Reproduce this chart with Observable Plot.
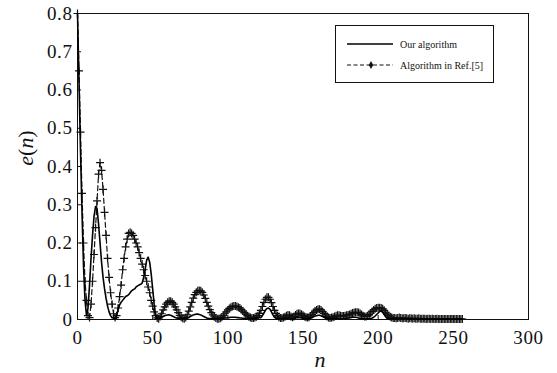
<!DOCTYPE html>
<html>
<head>
<meta charset="utf-8">
<script src="https://cdn.jsdelivr.net/npm/d3@7"></script>
<script src="https://cdn.jsdelivr.net/npm/@observablehq/plot@0.6"></script>
<style>
  html, body { margin: 0; padding: 0; background: #fff; }
  #chart { width: 557px; height: 373px; }
  #chart svg, #chart svg text { font-family: "Liberation Serif", "Times New Roman", serif !important; }
</style>
</head>
<body>
<div id="chart"></div>
<script>
// ---- data ----
const xTicks = [0, 50, 100, 150, 200, 250, 300];
const yTicks = [0, 0.1, 0.2, 0.3, 0.4, 0.5, 0.6, 0.7, 0.8];
const seriesNames = ["Our algorithm", "Algorithm in Ref.[5]"];

// e(n) for n = 0..256, Algorithm in Ref.[5] (dashed with + markers)
const refValues = [
  0.80,0.65,0.49,0.33,0.20,0.10,0.05,0.01,0.005,0.04,
  0.10,0.17,0.24,0.31,0.38,0.41,0.39,0.34,0.28,0.22,
  0.16,0.11,0.07,0.04,0.015,0.005,0.01,0.03,0.06,0.09,
  0.13,0.16,0.19,0.21,0.225,0.228,0.225,0.22,0.21,0.20,
  0.19,0.175,0.16,0.145,0.13,0.115,0.10,0.085,0.07,0.05,
  0.035,0.02,0.01,0.004,0.002,0.008,0.015,0.025,0.033,0.04,
  0.045,0.048,0.048,0.045,0.04,0.033,0.025,0.018,0.011,0.006,
  0.003,0.002,0.005,0.012,0.022,0.033,0.045,0.056,0.065,0.071,
  0.075,0.076,0.075,0.071,0.064,0.055,0.045,0.035,0.026,0.018,
  0.012,0.007,0.004,0.002,0.002,0.003,0.006,0.01,0.015,0.02,
  0.025,0.029,0.032,0.034,0.035,0.035,0.034,0.032,0.03,0.026,
  0.022,0.018,0.014,0.01,0.007,0.005,0.004,0.004,0.005,0.007,
  0.01,0.016,0.024,0.034,0.045,0.053,0.058,0.058,0.053,0.044,
  0.034,0.024,0.016,0.01,0.006,0.004,0.004,0.005,0.007,0.01,
  0.012,0.011,0.008,0.006,0.008,0.012,0.015,0.016,0.016,0.014,
  0.011,0.008,0.006,0.005,0.006,0.009,0.013,0.018,0.022,0.025,
  0.027,0.027,0.025,0.021,0.016,0.012,0.008,0.005,0.004,0.005,
  0.006,0.008,0.01,0.011,0.011,0.01,0.009,0.009,0.01,0.011,
  0.012,0.013,0.015,0.017,0.018,0.019,0.019,0.018,0.016,0.013,
  0.01,0.008,0.008,0.01,0.013,0.017,0.021,0.025,0.028,0.03,
  0.031,0.031,0.03,0.028,0.024,0.019,0.014,0.01,0.007,0.005,
  0.004,0.004,0.003,0.004,0.005,0.004,0.003,0.003,0.004,0.003,
  0.002,0.003,0.003,0.002,0.003,0.002,0.002,0.003,0.002,0.002,
  0.002,0.002,0.001,0.002,0.002,0.001,0.002,0.001,0.001,0.002,
  0.001,0.001,0.001,0.001,0.001,0.001,0.001,0.001,0.001,0.001,
  0.001,0.001,0.001,0.001,0.001,0.001,0.001
];

// e(n) for n = 0..256, Our algorithm (solid)
const ourValues = [
  0.80,0.62,0.44,0.28,0.14,0.05,0.01,0.03,0.09,0.16,
  0.22,0.27,0.295,0.29,0.25,0.20,0.15,0.11,0.08,0.055,
  0.035,0.02,0.01,0.005,0.003,0.002,0.01,0.025,0.038,0.045,
  0.05,0.055,0.06,0.062,0.065,0.07,0.075,0.078,0.08,0.085,
  0.088,0.09,0.092,0.095,0.11,0.13,0.155,0.163,0.15,0.12,
  0.08,0.04,0.01,0.003,0.003,0.004,0.006,0.008,0.01,0.011,
  0.012,0.012,0.011,0.009,0.007,0.005,0.004,0.003,0.003,0.003,
  0.002,0.002,0.003,0.004,0.006,0.008,0.01,0.012,0.013,0.014,
  0.014,0.013,0.012,0.01,0.008,0.006,0.004,0.003,0.002,0.002,
  0.002,0.002,0.002,0.002,0.002,0.002,0.003,0.003,0.004,0.004,
  0.005,0.005,0.006,0.006,0.006,0.006,0.005,0.005,0.004,0.004,
  0.003,0.003,0.002,0.002,0.002,0.002,0.002,0.002,0.003,0.003,
  0.004,0.005,0.005,0.01,0.017,0.024,0.029,0.03,0.027,0.02,
  0.012,0.006,0.003,0.002,0.002,0.002,0.002,0.002,0.003,0.003,
  0.003,0.003,0.002,0.002,0.003,0.004,0.005,0.005,0.005,0.004,
  0.003,0.002,0.002,0.002,0.003,0.004,0.005,0.007,0.009,0.01,
  0.011,0.011,0.01,0.008,0.006,0.004,0.003,0.002,0.002,0.002,
  0.002,0.003,0.003,0.003,0.003,0.002,0.002,0.002,0.003,0.003,
  0.004,0.005,0.005,0.006,0.006,0.006,0.005,0.004,0.003,0.003,
  0.002,0.002,0.002,0.002,0.002,0.003,0.004,0.006,0.009,0.013,
  0.017,0.021,0.022,0.019,0.013,0.007,0.003,0.002,0.002,0.002,
  0.002,0.002,0.002,0.002,0.002,0.002,0.002,0.002,0.002,0.002,
  0.001,0.001,0.001,0.001,0.001,0.001,0.001,0.001,0.001,0.001,
  0.001,0.001,0.001,0.001,0.001,0.001,0.001,0.001,0.001,0.001,
  0.001,0.001,0.001,0.001,0.001,0.001,0.001,0.001,0.001,0.001,
  0.001,0.001,0.001,0.001,0.001,0.001,0.001
];

// ---- build tables ----
const refData = refValues.map((e, n) => ({n, e}));
const ourData = ourValues.map((e, n) => ({n, e}));

const plusSymbol = {
  draw(context, size) {
    const r = Math.sqrt(size / Math.PI);
    context.moveTo(-r, 0); context.lineTo(r, 0);
    context.moveTo(0, -r); context.lineTo(0, r);
  }
};

const SERIF = "'Liberation Serif', 'Times New Roman', serif";
const W = 557, H = 373;
const mL = 77, mR = 29, mT = 13, mB = 54;
const innerW = W - mL - mR, innerH = H - mT - mB;
const tickLen = 4;

const chart = Plot.plot({
  width: W,
  height: H,
  marginLeft: mL,
  marginRight: mR,
  marginTop: mT,
  marginBottom: mB,
  style: {
    fontFamily: SERIF,
    fontSize: "19px",
    background: "#fff",
    color: "#111"
  },
  x: {domain: [0, 300], ticks: xTicks, tickSize: 0, tickPadding: 11, label: null, tickFormat: d => String(d)},
  y: {domain: [0, 0.8], ticks: yTicks, tickSize: 0, tickPadding: 5, label: null,
      tickFormat: d => d === 0 ? "0" : d.toFixed(1)},
  marks: [
    Plot.frame({stroke: "#111", strokeWidth: 1}),
    Plot.tickX(xTicks, {x: d => d, stroke: "#111", insetTop: innerH - tickLen}),
    Plot.tickY(yTicks, {y: d => d, stroke: "#111", insetRight: innerW - tickLen}),
    Plot.line(refData, {x: "n", y: "e", stroke: "#111", strokeWidth: 1.2, strokeDasharray: "5,3"}),
    Plot.dot(refData, {x: "n", y: "e", symbol: plusSymbol, r: 4, stroke: "#111", fill: "none", strokeWidth: 1.2}),
    Plot.line(ourData, {x: "n", y: "e", stroke: "#000", strokeWidth: 1.6})
  ]
});

document.getElementById("chart").appendChild(chart);

// ---- axis titles and legend ----
const svg = d3.select(chart);
// force the serif face on every tick label
svg.selectAll("g").attr("font-family", null).style("font-family", SERIF);
svg.selectAll("text")
  .attr("font-family", null)
  .attr("font-variant", null)
  .style("font-family", SERIF)
  .style("font-variant", "normal")
  .style("font-size", "19px")
  .style("letter-spacing", "0.6px");

// y title: e(n)
const yt = svg.append("text")
  .attr("transform", "translate(33,148) rotate(-90)")
  .attr("text-anchor", "middle")
  .style("font-family", SERIF)
  .style("font-size", "22px")
  .attr("fill", "#111");
yt.append("tspan").style("font-style", "italic").text("e");
yt.append("tspan").text("(");
yt.append("tspan").style("font-style", "italic").text("n");
yt.append("tspan").text(")");

// x title: n
svg.append("text")
  .attr("x", 320).attr("y", 367)
  .attr("text-anchor", "middle")
  .style("font-family", SERIF)
  .style("font-size", "22px")
  .style("font-style", "italic")
  .attr("fill", "#111")
  .text("n");

// legend
const lg = svg.append("g").attr("text-anchor", "start");
lg.append("rect").attr("x", 335.5).attr("y", 25.5).attr("width", 158).attr("height", 57)
  .attr("fill", "#fff").attr("stroke", "#111").attr("stroke-width", 1);
lg.append("line").attr("x1", 347).attr("x2", 393).attr("y1", 44).attr("y2", 44)
  .attr("stroke", "#000").attr("stroke-width", 1.5);
lg.append("line").attr("x1", 347).attr("x2", 393).attr("y1", 65).attr("y2", 65)
  .attr("stroke", "#111").attr("stroke-width", 1.1).attr("stroke-dasharray", "4,2.5");
lg.append("path").attr("d", d3.symbol(d3.symbolDiamond, 18)())
  .attr("transform", "translate(371,65)").attr("fill", "#111");
lg.selectAll("text.leg").data(seriesNames).join("text")
  .attr("class", "leg")
  .attr("x", 400)
  .attr("y", (d, i) => 47.5 + i * 21)
  .attr("text-anchor", "start")
  .style("font-family", SERIF)
  .style("font-size", "10px")
  .attr("fill", "#111")
  .text(d => d);
</script>
</body>
</html>
